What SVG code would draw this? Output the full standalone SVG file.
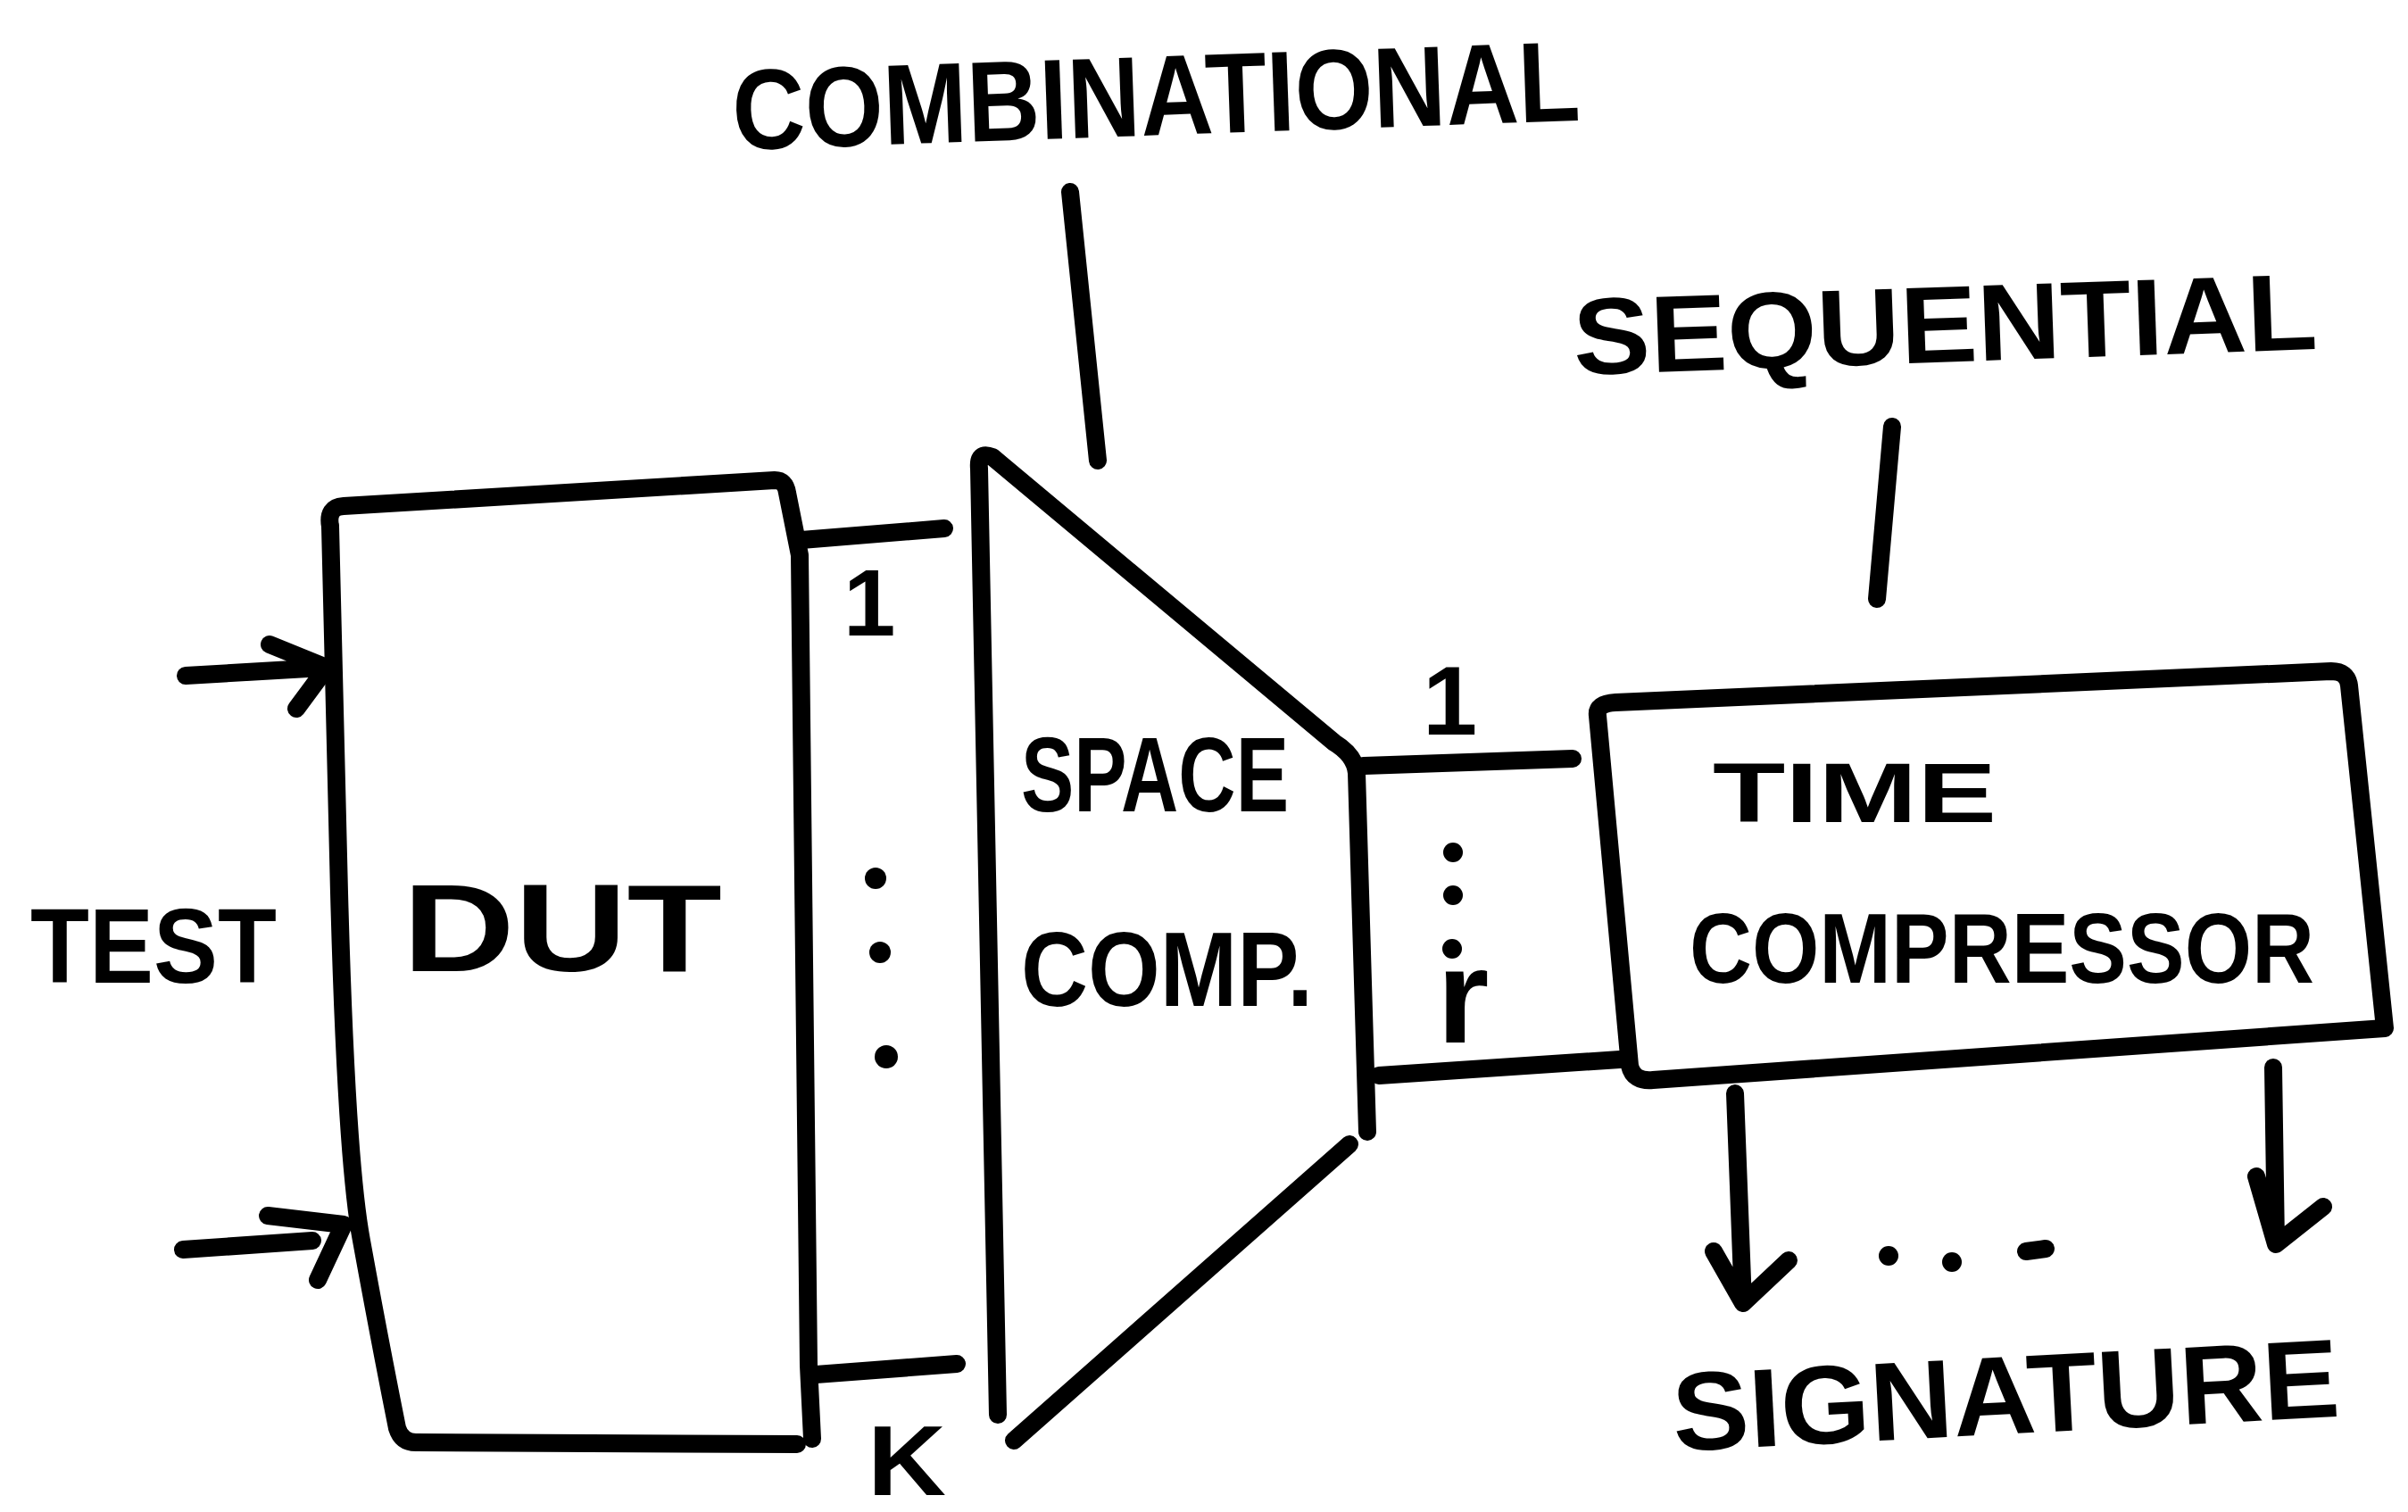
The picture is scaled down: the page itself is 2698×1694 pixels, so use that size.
<svg xmlns="http://www.w3.org/2000/svg" width="2698" height="1694" viewBox="0 0 2698 1694">
<defs>
<style>
.s{fill:none;stroke:#000;stroke-width:20;stroke-linecap:round;stroke-linejoin:round}
.t{font-family:"Liberation Sans",Arial,sans-serif;font-weight:bold;fill:#000}
.d{fill:#000}
</style>
</defs>
<rect width="2698" height="1694" fill="#fff"/>

<g id="label-combinational">
<text class="t" x="822" y="168" font-size="128" textLength="950" lengthAdjust="spacingAndGlyphs" transform="rotate(-2 822 168)">COMBINATIONAL</text>
</g>
<g id="label-sequential">
<text class="t" x="1764" y="420" font-size="122" textLength="834" lengthAdjust="spacingAndGlyphs" transform="rotate(-2 1764 420)">SEQUENTIAL</text>
</g>
<g id="label-test">
<text class="t" x="34" y="1101" font-size="118" textLength="276" lengthAdjust="spacingAndGlyphs">TEST</text>
</g>

<g id="dut">
<path class="s" d="M370 590 Q366 568 385 567 L868 538 Q880 538 882 552 L896 622 L906 1530 L910 1612"/>
<path class="s" d="M370 590 L380 1000 Q388 1300 405 1390 Q425 1500 445 1600 Q450 1616 466 1616 L893 1618"/>
<text class="t" x="451" y="1088" font-size="140" textLength="358" lengthAdjust="spacingAndGlyphs">DUT</text>
</g>

<g id="space-comp">
<path class="s" d="M1118 1585 L1097 525 Q1095 505 1112 512 L1495 832 Q1518 846 1520 866 L1532 1268"/>
<path class="s" d="M1136 1614 L1512 1282"/>
<text class="t" x="1144" y="909" font-size="118" textLength="300" lengthAdjust="spacingAndGlyphs">SPACE</text>
<text class="t" x="1144" y="1127" font-size="118" textLength="327" lengthAdjust="spacingAndGlyphs">COMP.</text>
</g>

<g id="time-comp">
<path class="s" d="M1810 787 L2612 752 Q2630 752 2632 768 L2672 1152 L1852 1210 Q1830 1212 1826 1194 L1790 802 Q1788 788 1810 787 Z"/>
<text class="t" x="1919" y="921" font-size="95" textLength="318" lengthAdjust="spacingAndGlyphs">TIME</text>
<text class="t" x="1893" y="1101" font-size="112" textLength="700" lengthAdjust="spacingAndGlyphs">COMPRESSOR</text>
</g>

<g id="label-signature">
<text class="t" x="1876" y="1626" font-size="125" textLength="748" lengthAdjust="spacingAndGlyphs" transform="rotate(-3 1876 1626)">SIGNATURE</text>
</g>

<g id="connectors">
<path class="s" d="M1199 215 L1230 516"/>
<path class="s" d="M2120 478 L2103 671"/>
<path class="s" d="M208 757 L362 748 M302 722 L366 748 L332 794"/>
<path class="s" d="M205 1400 L350 1390 M300 1362 L385 1372 L356 1434"/>
<path class="s" d="M898 605 L1058 592"/>
<path class="s" d="M914 1540 L1072 1528"/>
<path class="s" d="M1528 858 L1762 850"/>
<path class="s" d="M1545 1205 L1815 1187"/>
<path class="s" d="M1944 1225 L1953 1460 M1920 1402 L1953 1460 L2004 1412"/>
<path class="s" d="M2547 1196 L2550 1394 M2528 1318 L2550 1394 L2603 1352"/>
</g>

<g id="labels">
<text class="t" x="945" y="712" font-size="105">1</text>
<text class="t" x="972" y="1675" font-size="112" textLength="88" lengthAdjust="spacingAndGlyphs">K</text>
<circle class="d" cx="981" cy="984" r="12"/>
<circle class="d" cx="986" cy="1067" r="12"/>
<circle class="d" cx="993" cy="1184" r="13"/>
<text class="t" x="1594" y="823" font-size="110">1</text>
<circle class="d" cx="1628" cy="955" r="11"/>
<circle class="d" cx="1628" cy="1003" r="11"/>
<circle class="d" cx="1627" cy="1063" r="11"/>
<text class="t" x="1610" y="1168" font-size="150">r</text>
<circle class="d" cx="2116" cy="1407" r="11"/>
<circle class="d" cx="2187" cy="1414" r="11"/>
<path class="s" d="M2270 1402 L2292 1399"/>
</g>
</svg>
